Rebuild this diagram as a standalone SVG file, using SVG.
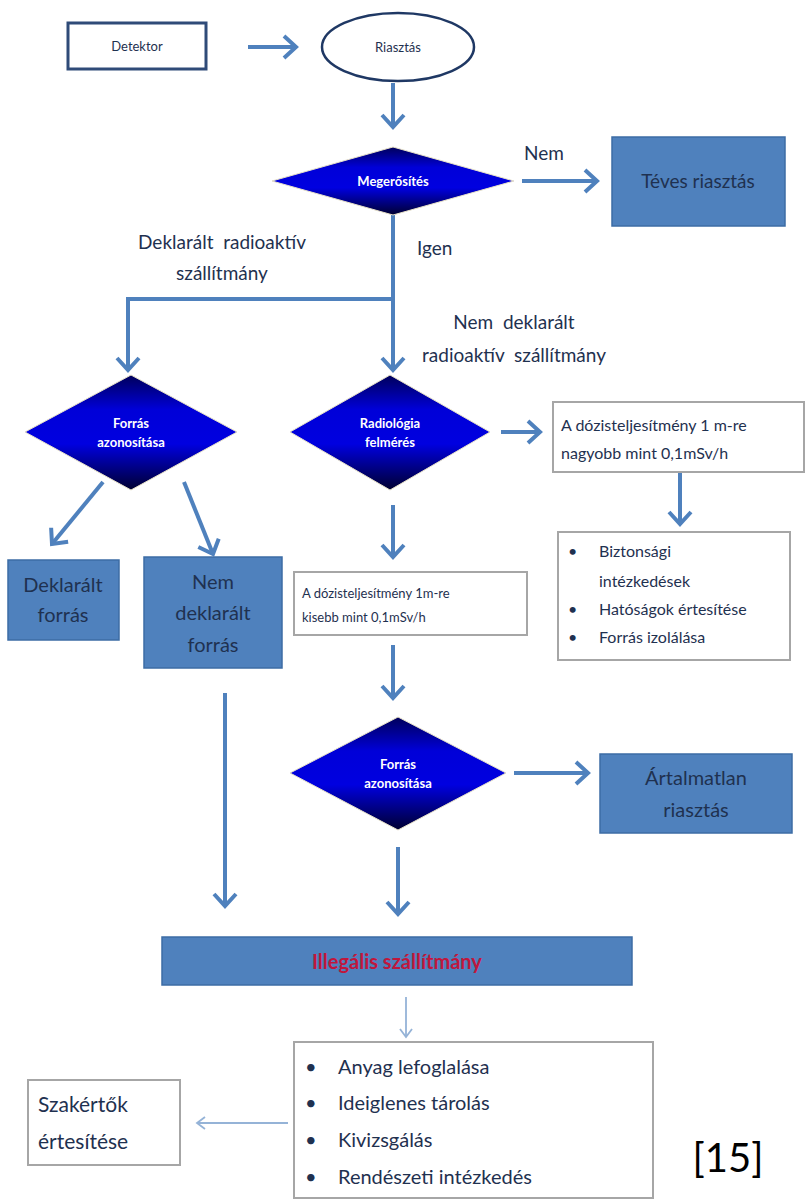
<svg xmlns="http://www.w3.org/2000/svg" width="806" height="1200" viewBox="0 0 806 1200">
<style>
.t{font-family:Lato,"Liberation Sans",sans-serif;fill:#1f3150}
.dt{font-family:Lato,"Liberation Sans",sans-serif;fill:#ffffff;font-weight:bold;font-size:13px;text-anchor:middle}
.fb{fill:#4f81bd;stroke:#3c6ca5;stroke-width:1.5}
.wb{fill:#ffffff;stroke:#a6a6a6;stroke-width:2}
.c{fill:none;stroke:#4f81bd;stroke-width:4}
.thin{fill:none;stroke:#95b3d7;stroke-width:1.8}
.dia{fill:url(#g);stroke:#e6e0c8;stroke-width:1}
</style>
<defs>
<linearGradient id="g" x1="0" y1="0" x2="0" y2="1">
<stop offset="0" stop-color="#00005a"/>
<stop offset="0.3" stop-color="#0000d8"/>
<stop offset="0.6" stop-color="#0000e0"/>
<stop offset="1" stop-color="#000030"/>
</linearGradient>
<marker id="a" markerUnits="userSpaceOnUse" markerWidth="30" markerHeight="30" refX="14" refY="12" orient="auto" viewBox="0 0 30 24">
<path d="M2,1 L14,12 L2,23" fill="none" stroke="#4f81bd" stroke-width="4"/>
</marker>
<marker id="b" markerUnits="userSpaceOnUse" markerWidth="20" markerHeight="20" refX="9" refY="7" orient="auto" viewBox="0 0 20 14">
<path d="M1,1 L9,7 L1,13" fill="none" stroke="#95b3d7" stroke-width="1.8"/>
</marker>
</defs>

<g id="connectors">
<line class="c" x1="248" y1="47" x2="296" y2="47" marker-end="url(#a)"/>
<line class="c" x1="393" y1="83" x2="393" y2="127" marker-end="url(#a)"/>
<line class="c" x1="522" y1="181" x2="597" y2="181" marker-end="url(#a)"/>
<polyline class="c" points="393,215 393,299 128,299 128,370" marker-end="url(#a)"/>
<line class="c" x1="393" y1="299" x2="393" y2="370" marker-end="url(#a)"/>
<line class="c" x1="501" y1="432" x2="540" y2="432" marker-end="url(#a)"/>
<line class="c" x1="680" y1="473" x2="680" y2="524" marker-end="url(#a)"/>
<line class="c" x1="103" y1="482" x2="52" y2="544" marker-end="url(#a)"/>
<line class="c" x1="184" y1="482" x2="213" y2="554" marker-end="url(#a)"/>
<line class="c" x1="393" y1="505" x2="393" y2="557" marker-end="url(#a)"/>
<line class="c" x1="393" y1="645" x2="393" y2="698" marker-end="url(#a)"/>
<line class="c" x1="514" y1="773" x2="588" y2="773" marker-end="url(#a)"/>
<line class="c" x1="225" y1="693" x2="225" y2="906" marker-end="url(#a)"/>
<line class="c" x1="398" y1="847" x2="398" y2="914" marker-end="url(#a)"/>
<line class="thin" x1="406" y1="997" x2="406" y2="1037" marker-end="url(#b)"/>
<line class="thin" x1="288" y1="1123" x2="197" y2="1123" marker-end="url(#b)"/>
</g>

<g id="detektor">
<rect x="68" y="23" width="138" height="46" fill="#ffffff" stroke="#2f4b78" stroke-width="3"/>
<text class="t" x="137" y="51" font-size="13" text-anchor="middle">Detektor</text>
</g>
<g id="riasztas">
<ellipse cx="398" cy="47" rx="76" ry="34" fill="#ffffff" stroke="#1f3864" stroke-width="2.5"/>
<text class="t" x="398" y="52" font-size="13" text-anchor="middle">Riasztás</text>
</g>
<g id="megerosites">
<polygon class="dia" points="272,181 393,147 514,181 393,215"/>
<text class="dt" x="393" y="186">Megerősítés</text>
</g>
<g id="label-nem">
<text class="t" x="524" y="160" font-size="19">Nem</text>
</g>
<g id="teves">
<rect class="fb" x="612" y="137" width="173" height="89"/>
<text class="t" x="698" y="188" font-size="19" text-anchor="middle">Téves riasztás</text>
</g>
<g id="label-deklaralt">
<text class="t" x="222" y="249" font-size="19" text-anchor="middle" xml:space="preserve">Deklarált  radioaktív</text>
<text class="t" x="222" y="280" font-size="19" text-anchor="middle">szállítmány</text>
</g>
<g id="label-igen">
<text class="t" x="417" y="255" font-size="19">Igen</text>
</g>
<g id="label-nemdeklaralt">
<text class="t" x="514" y="329" font-size="19" text-anchor="middle" xml:space="preserve">Nem  deklarált</text>
<text class="t" x="514" y="362" font-size="19" text-anchor="middle" xml:space="preserve">radioaktív  szállítmány</text>
</g>
<g id="forras1">
<polygon class="dia" points="25,432 131,375 237,432 131,490"/>
<text class="dt" x="131" y="428">Forrás</text>
<text class="dt" x="131" y="447">azonosítása</text>
</g>
<g id="radiologia">
<polygon class="dia" points="290,432 390,375 490,432 390,490"/>
<text class="dt" x="390" y="428">Radiológia</text>
<text class="dt" x="390" y="447">felmérés</text>
</g>
<g id="nagyobb">
<rect class="wb" x="553" y="402" width="251" height="70"/>
<text class="t" x="561" y="431" font-size="16">A dózisteljesítmény 1 m-re</text>
<text class="t" x="561" y="459" font-size="16">nagyobb mint 0,1mSv/h</text>
</g>
<g id="biztonsagi">
<rect class="wb" x="558" y="532" width="232" height="128"/>
<g class="t" font-size="16">
<text x="568" y="557">•</text>
<text x="599" y="557">Biztonsági</text>
<text x="599" y="587">intézkedések</text>
<text x="568" y="615">•</text>
<text x="599" y="615">Hatóságok értesítése</text>
<text x="568" y="643">•</text>
<text x="599" y="643">Forrás izolálása</text>
</g>
</g>
<g id="deklaralt-forras">
<rect class="fb" x="8" y="560" width="111" height="80"/>
<text class="t" x="63" y="592" font-size="20" text-anchor="middle">Deklarált</text>
<text class="t" x="63" y="622" font-size="20" text-anchor="middle">forrás</text>
</g>
<g id="nemdeklaralt-forras">
<rect class="fb" x="144" y="557" width="138" height="111"/>
<text class="t" x="213" y="589" font-size="20" text-anchor="middle">Nem</text>
<text class="t" x="213" y="620" font-size="20" text-anchor="middle">deklarált</text>
<text class="t" x="213" y="652" font-size="20" text-anchor="middle">forrás</text>
</g>
<g id="kisebb">
<rect class="wb" x="294" y="572" width="233" height="63"/>
<text class="t" x="302" y="598" font-size="13">A dózisteljesítmény 1m-re</text>
<text class="t" x="302" y="622" font-size="13">kisebb mint 0,1mSv/h</text>
</g>
<g id="forras2">
<polygon class="dia" points="290,773 398,717 506,773 398,830"/>
<text class="dt" x="398" y="769">Forrás</text>
<text class="dt" x="398" y="788">azonosítása</text>
</g>
<g id="artalmatlan">
<rect class="fb" x="600" y="754" width="192" height="79"/>
<text class="t" x="696" y="785" font-size="20" text-anchor="middle">Ártalmatlan</text>
<text class="t" x="696" y="817" font-size="20" text-anchor="middle">riasztás</text>
</g>
<g id="illegalis">
<rect class="fb" x="162" y="937" width="470" height="48"/>
<text x="397" y="969" font-family="Lato,'Liberation Sans',sans-serif" font-size="20" font-weight="bold" fill="#c0163c" text-anchor="middle">Illegális szállítmány</text>
</g>
<g id="intezkedesek">
<rect class="wb" x="294" y="1042" width="359" height="156"/>
<g class="t" font-size="20">
<text x="305" y="1074">•</text>
<text x="338" y="1074">Anyag lefoglalása</text>
<text x="305" y="1110">•</text>
<text x="338" y="1110">Ideiglenes tárolás</text>
<text x="305" y="1147">•</text>
<text x="338" y="1147">Kivizsgálás</text>
<text x="305" y="1184">•</text>
<text x="338" y="1184">Rendészeti intézkedés</text>
</g>
</g>
<g id="szakertok">
<rect class="wb" x="28" y="1080" width="152" height="85"/>
<text class="t" x="38" y="1112" font-size="21">Szakértők</text>
<text class="t" x="38" y="1149" font-size="21">értesítése</text>
</g>
<g id="ref">
<text x="728" y="1172" font-family="Lato,'Liberation Sans',sans-serif" font-size="40" fill="#000000" text-anchor="middle">[15]</text>
</g>
</svg>
